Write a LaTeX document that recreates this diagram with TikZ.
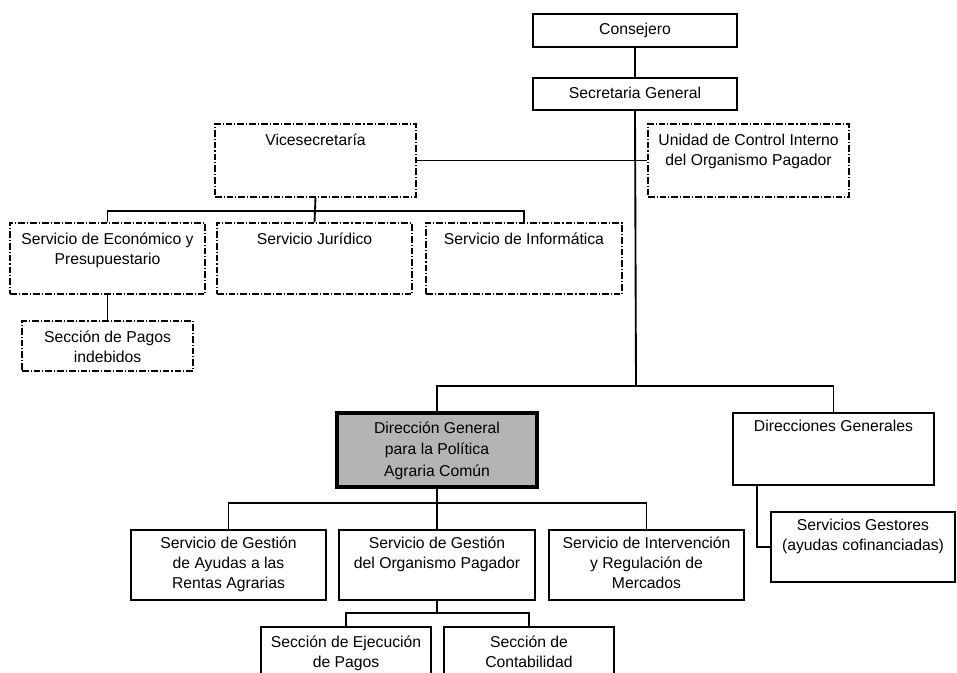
\documentclass[tikz,border=0pt]{standalone}
\usepackage{fontspec}
\setmainfont{Liberation Sans}
\usepackage{tikz}
\usetikzlibrary{positioning, calc}
\usepackage{xcolor}
\definecolor{dgfill}{RGB}{180,180,180}

\tikzset{
  orgbox/.style={draw, line width=1.4pt, inner sep=0pt, fill=white},
  dashbox/.style={orgbox, line width=0.9pt,
    dash pattern=on 5pt off 1.5pt on 0.8pt off 1.5pt},
  mainbox/.style={orgbox, line width=3pt, fill=dgfill},
  toptext/.style={anchor=north, inner sep=0pt, align=center,
    font=\fontsize{11.8}{15}\selectfont, yshift=-8pt},
  conn/.style={line width=1.4pt},
}

\begin{document}
\begin{tikzpicture}[x=0.75pt, y=-0.75pt]
          % bounding box
          \useasboundingbox (0,0) rectangle (957,673);
          \clip (0,0) rectangle (957,673);

          % top: Consejero, Secretaria General
          \begin{scope}
            \node[orgbox, minimum width=204*0.75pt, minimum height=33*0.75pt,
              label={[toptext, yshift=1pt]north:Consejero}] (consejero) at (635,30.5) {};
            \node[orgbox, minimum width=204*0.75pt, minimum height=32*0.75pt,
              label={[toptext, yshift=1pt]north:Secretaria General}] (secgen) at (635,94) {};
          \end{scope}

          % second level (dashed)
          \begin{scope}
            \node[dashbox, minimum width=201*0.75pt, minimum height=73*0.75pt,
              label={[toptext]north:Vicesecretaría}] (vice) at (315.5,160.5) {};
            \node[dashbox, minimum width=201*0.75pt, minimum height=73*0.75pt,
              label={[toptext]north:Unidad de Control Interno\\del Organismo Pagador}] (unidad) at (748.5,160.5) {};
            \node[dashbox, minimum width=195*0.75pt, minimum height=71*0.75pt,
              label={[toptext]north:Servicio de Económico y\\Presupuestario}] (economico) at (107.5,258.5) {};
            \node[dashbox, minimum width=195*0.75pt, minimum height=71*0.75pt,
              label={[toptext]north:Servicio Jurídico}] (juridico) at (314.5,258.5) {};
            \node[dashbox, minimum width=196*0.75pt, minimum height=71*0.75pt,
              label={[toptext]north:Servicio de Informática}] (informatica) at (524,258.5) {};
            \node[dashbox, minimum width=171*0.75pt, minimum height=50*0.75pt,
              label={[toptext]north:Sección de Pagos\\indebidos}] (pagos) at (107.5,346) {};
          \end{scope}

          % direcciones generales
          \begin{scope}
            \node[mainbox, minimum width=200*0.75pt, minimum height=74*0.75pt,
              label={[toptext, font=\fontsize{11.8}{16}\selectfont]north:Dirección General\\para la Política\\Agraria Común}] (dgpac) at (437,450) {};
            \node[orgbox, minimum width=201*0.75pt, minimum height=72*0.75pt,
              label={[toptext, yshift=2pt]north:Direcciones Generales}] (direcciones) at (833.5,449) {};
            \node[orgbox, minimum width=184*0.75pt, minimum height=70*0.75pt,
              label={[toptext, yshift=2pt]north:Servicios Gestores\\(ayudas cofinanciadas)}] (gestores) at (863,547) {};
          \end{scope}

          % servicios y secciones
          \begin{scope}
            \node[orgbox, minimum width=195*0.75pt, minimum height=70*0.75pt,
              label={[toptext, yshift=2pt]north:Servicio de Gestión\\de Ayudas a las\\Rentas Agrarias}] (ayudas) at (228.5,565) {};
            \node[orgbox, minimum width=196*0.75pt, minimum height=70*0.75pt,
              label={[toptext, yshift=2pt]north:Servicio de Gestión\\del Organismo Pagador}] (gestionop) at (437,565) {};
            \node[orgbox, minimum width=195*0.75pt, minimum height=70*0.75pt,
              label={[toptext, yshift=2pt]north:Servicio de Intervención\\y Regulación de\\Mercados}] (intervencion) at (646.5,565) {};
            \node[orgbox, minimum width=170*0.75pt, minimum height=70*0.75pt,
              label={[toptext, yshift=1pt]north:Sección de Ejecución\\de Pagos}] (ejecucion) at (346,662) {};
            \node[orgbox, minimum width=170*0.75pt, minimum height=70*0.75pt,
              label={[toptext, yshift=1pt]north:Sección de\\Contabilidad}] (contabilidad) at (529,662) {};
          \end{scope}

          % connectors
          \coordinate (busdg) at (636,386);
          \coordinate (busvice) at (315,211);
          \coordinate (busserv) at (437,503);
          \coordinate (bussec) at (437,613);
          \draw[conn] (consejero) -- (secgen);
          \draw[conn] (secgen.south) -- (busdg);
          \draw[conn] (vice.east) -- (unidad.west);
          \draw[conn] (dgpac.north) -- (dgpac.north |- busdg) -- (direcciones.north |- busdg) -- (direcciones.north);
          \draw[conn] (vice.south) -- (juridico.north);
          \draw[conn] (economico.north) -- (economico.north |- busvice) -- (informatica.north |- busvice) -- (informatica.north);
          \draw[conn] (economico.south) -- (pagos.north);
          \draw[conn] ($(direcciones.south west)+(25,0)$) |- (gestores.west);
          \draw[conn] (dgpac.south) -- (gestionop.north);
          \draw[conn] (ayudas.north) -- (ayudas.north |- busserv) -- (intervencion.north |- busserv) -- (intervencion.north);
          \draw[conn] (gestionop.south) -- (bussec);
          \draw[conn] (ejecucion.north) -- (ejecucion.north |- bussec) -- (contabilidad.north |- bussec) -- (contabilidad.north);
        \end{tikzpicture}
\end{document}
